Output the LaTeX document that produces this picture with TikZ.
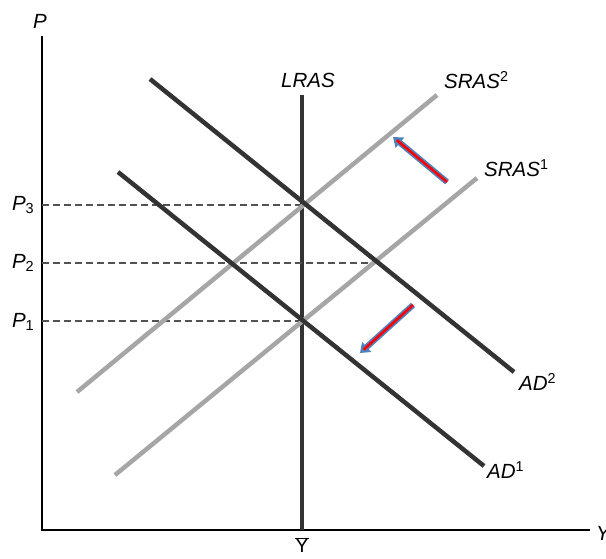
\documentclass[tikz,border=0pt]{standalone}
\usepackage{fontspec}
\setmainfont{Liberation Sans}
\usetikzlibrary{arrows.meta}
\definecolor{darkline}{HTML}{333333}
\definecolor{grayline}{HTML}{A6A6A6}
\definecolor{arrblue}{HTML}{4F81BD}
\tikzset{
  axisline/.style={line width=2.6pt, black},
  adline/.style={line width=4.5pt, darkline},
  srasline/.style={line width=4.5pt, grayline},
  guide/.style={line width=1.2pt, darkline!85, dash pattern=on 7pt off 4pt},
  lbl/.style={font=\fontsize{20.5}{22}\selectfont\itshape, inner sep=0pt},
  shiftouter/.style={line width=6pt, arrblue, -{Triangle[length=9pt,width=13pt]}},
  shiftinner/.style={line width=2.6pt, red, shorten >=5pt}
}
\newcommand{\supnum}[1]{\textsuperscript{\upshape #1}}
\newcommand{\subnum}[1]{\raisebox{-0.35ex}{\fontsize{14.5}{15}\selectfont\upshape #1}}
\begin{document}
\begin{tikzpicture}[x=1pt,y=-1pt]
\useasboundingbox (0,0) rectangle (606,558);
% axes
\coordinate (origin) at (42,530);
\coordinate (ytop) at (42,36);
\coordinate (xend) at (590,530);
\draw[axisline] (ytop) -- (origin) -- (xend);
\node[lbl, anchor=base] (plabel) at (40,28) {P};
\node[lbl, anchor=west] (ylabel) at (596,533) {Y};
% LRAS
\coordinate (lrastop) at (302,95);
\coordinate (lrasbot) at (302,530);
\draw[adline] (lrastop) -- (lrasbot);
\node[lbl] (lraslabel) at (308,80) {LRAS};
\node[font=\fontsize{20}{21}\selectfont, inner sep=0pt, anchor=north] (ybar) at (302,537) {$\overline{\mbox{Y}}$};
% equilibrium points
\coordinate (e3) at (302,205);
\coordinate (e1) at (302,321);
\coordinate (e2r) at (373,263);
% dashed guides
\node[lbl, anchor=east] (p3) at (34,205) {P\subnum{3}};
\node[lbl, anchor=east] (p2) at (34,263) {P\subnum{2}};
\node[lbl, anchor=east] (p1) at (34,322) {P\subnum{1}};
\coordinate (g3) at (42,205);
\coordinate (g2) at (42,263);
\coordinate (g1) at (42,321);
\draw[guide] (g3) -- (e3);
\draw[guide] (g2) -- (e2r);
\draw[guide] (g1) -- (e1);
% SRAS curves
\coordinate (s1a) at (115,475);
\coordinate (s1b) at (477,178);
\coordinate (s2a) at (77,392);
\coordinate (s2b) at (437,95);
\draw[srasline] (s1a) -- (s1b);
\draw[srasline] (s2a) -- (s2b);
\node[lbl, anchor=west] (sras2) at (444,80) {SRAS\supnum{2}};
\node[lbl, anchor=west] (sras1) at (484,168) {SRAS\supnum{1}};
% AD curves
\coordinate (d2a) at (150,79);
\coordinate (d2b) at (514,372);
\coordinate (d1a) at (118,172);
\coordinate (d1b) at (484,466);
\draw[adline] (d2a) -- (d2b);
\draw[adline] (d1a) -- (d1b);
\node[lbl, anchor=west] (ad2) at (519,382) {AD\supnum{2}};
\node[lbl, anchor=west] (ad1) at (487,470) {AD\supnum{1}};
% shift arrows
\coordinate (a1s) at (447,182);
\coordinate (a1e) at (393,137);
\coordinate (a2s) at (413,305);
\coordinate (a2e) at (360,353);
\draw[shiftouter] (a1s) -- (a1e);
\draw[shiftinner] (a1s) -- (a1e);
\draw[shiftouter] (a2s) -- (a2e);
\draw[shiftinner] (a2s) -- (a2e);
\end{tikzpicture}
\end{document}
